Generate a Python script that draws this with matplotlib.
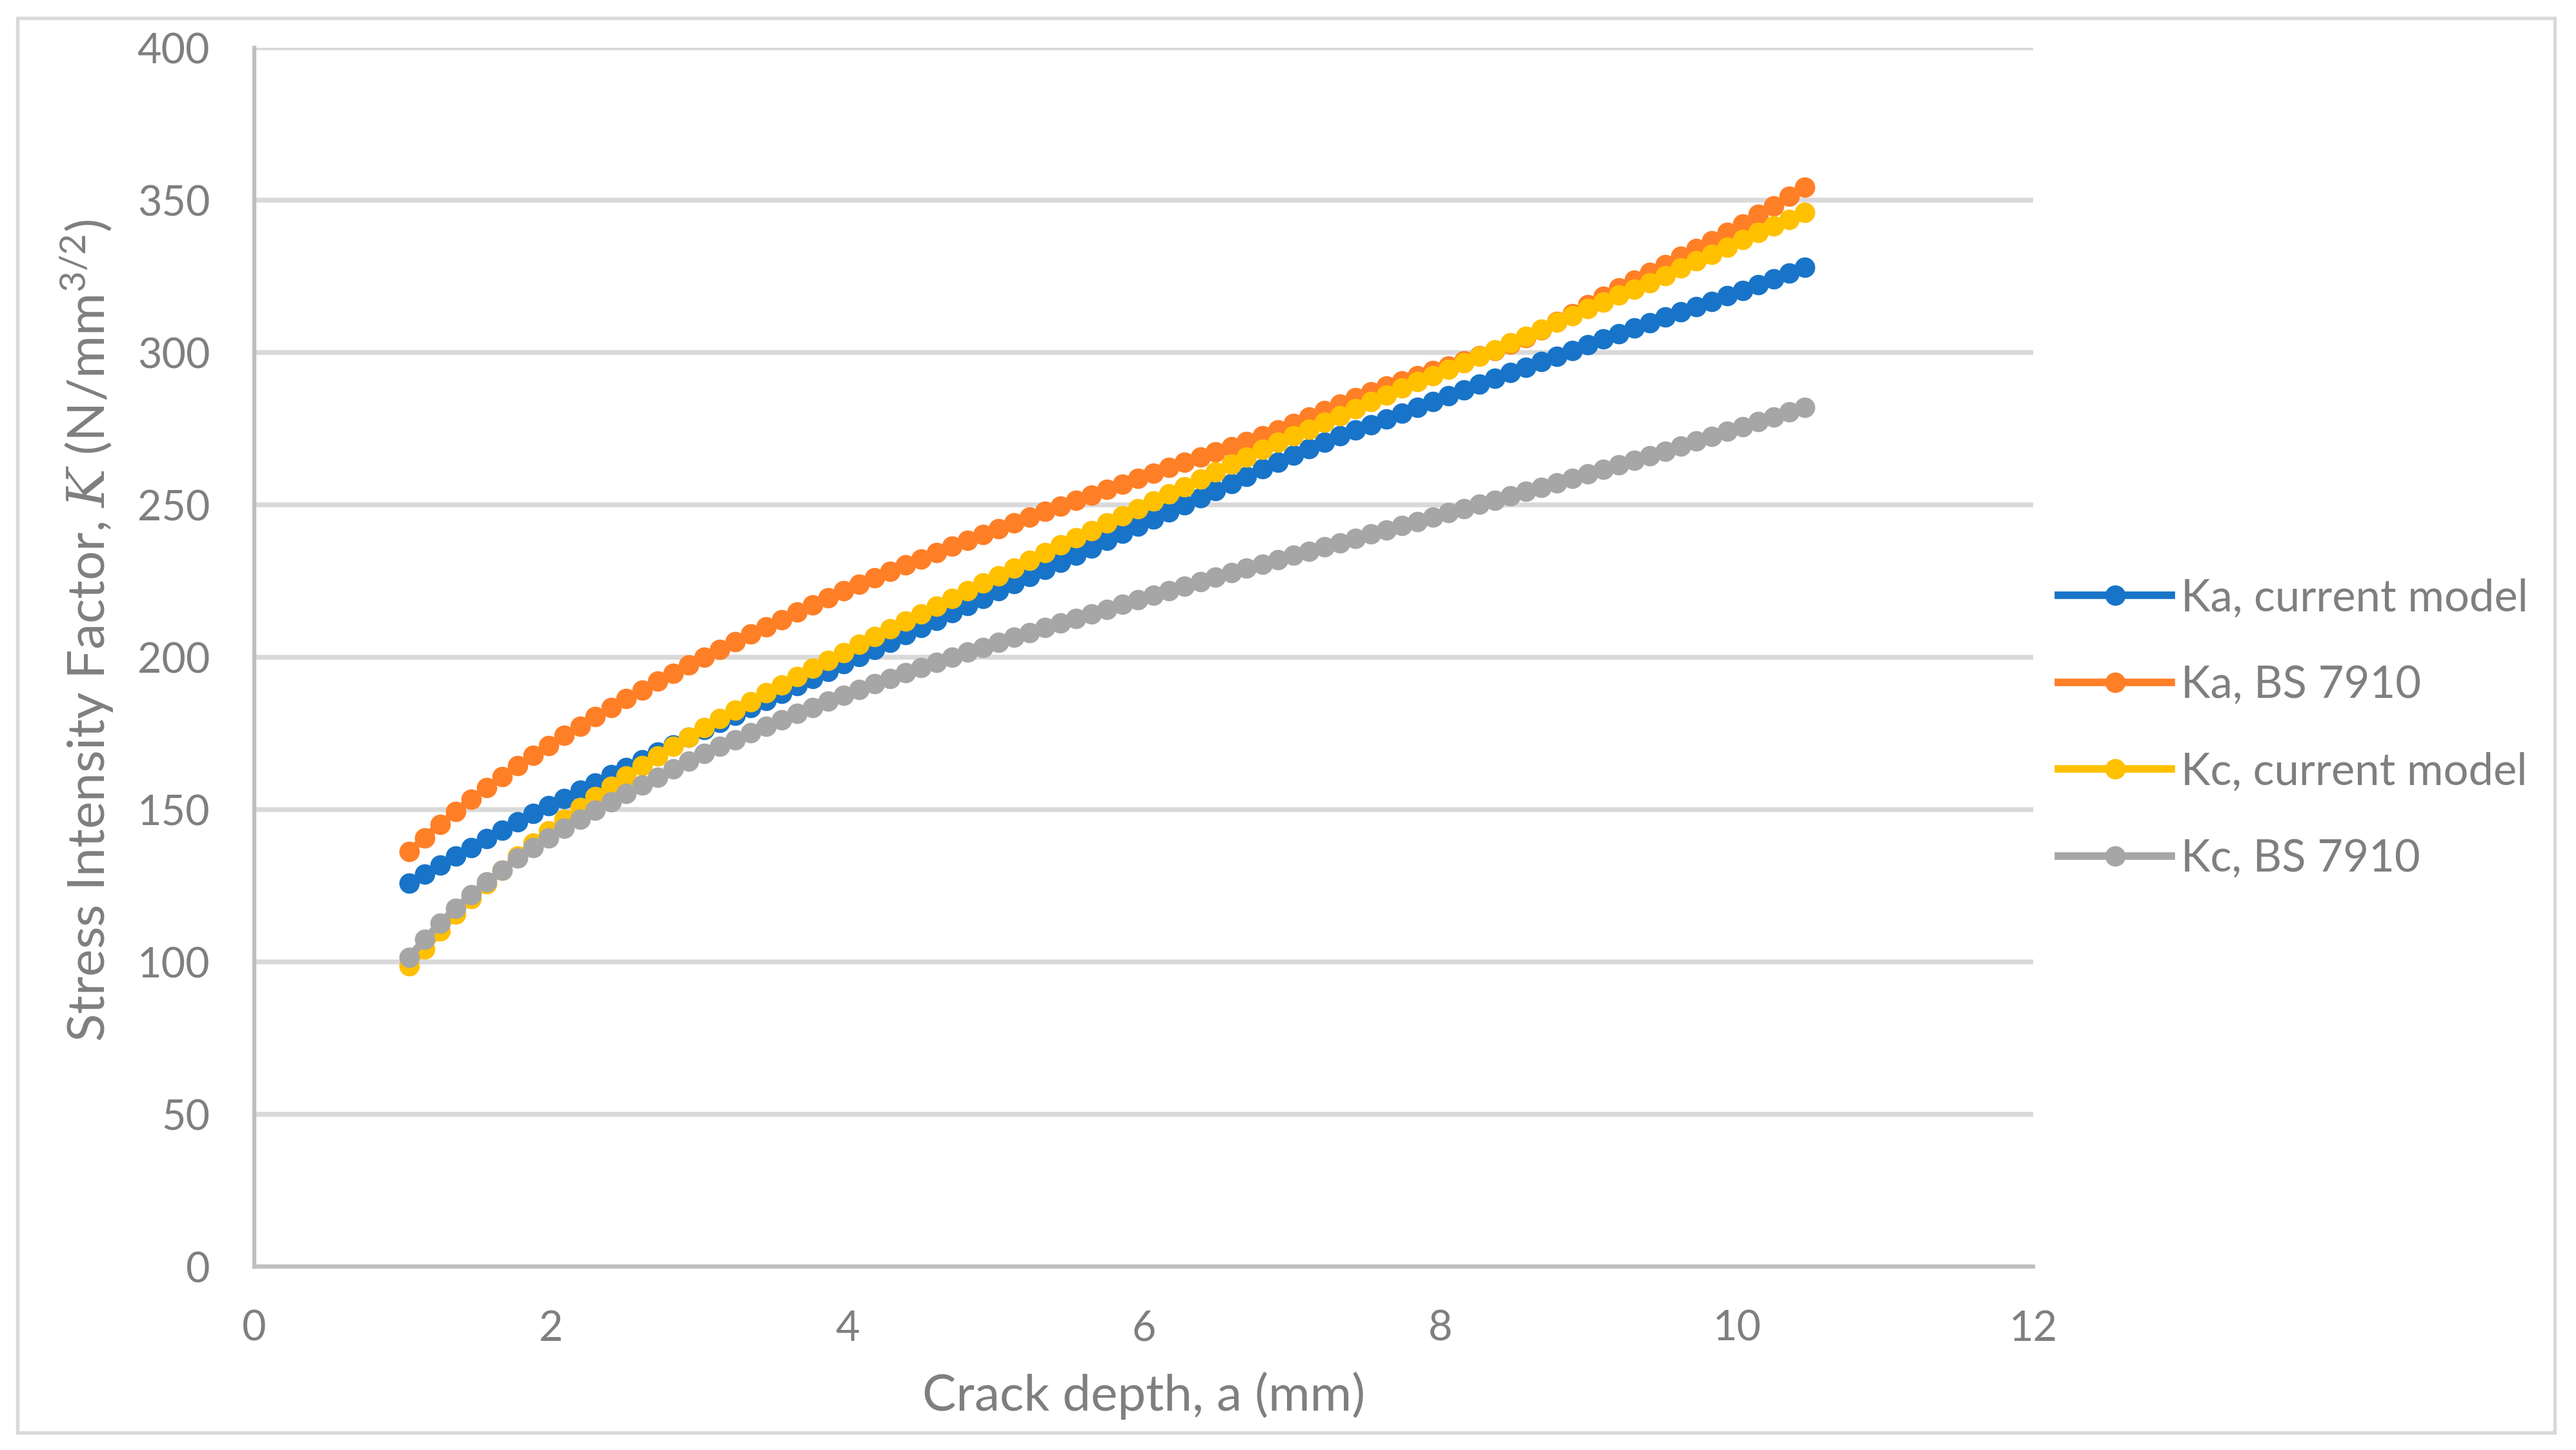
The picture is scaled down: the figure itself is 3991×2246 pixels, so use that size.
import matplotlib
matplotlib.use("Agg")
import matplotlib.pyplot as plt
from matplotlib.patches import Rectangle

# crack depth a (mm), one marker every ~0.105 mm
crack_depth = [
    1.046, 1.151, 1.255, 1.360, 1.464, 1.569, 1.674, 1.778, 1.883, 1.987,
    2.092, 2.197, 2.301, 2.406, 2.510, 2.615, 2.720, 2.824, 2.929, 3.033,
    3.138, 3.243, 3.347, 3.452, 3.556, 3.661, 3.766, 3.870, 3.975, 4.079,
    4.184, 4.289, 4.393, 4.498, 4.602, 4.707, 4.812, 4.916, 5.021, 5.125,
    5.230, 5.335, 5.439, 5.544, 5.648, 5.753, 5.858, 5.962, 6.067, 6.171,
    6.276, 6.381, 6.485, 6.590, 6.694, 6.799, 6.904, 7.008, 7.113, 7.217,
    7.322, 7.427, 7.531, 7.636, 7.740, 7.845, 7.950, 8.054, 8.159, 8.263,
    8.368, 8.473, 8.577, 8.682, 8.786, 8.891, 8.996, 9.100, 9.205, 9.309,
    9.414, 9.519, 9.623, 9.728, 9.832, 9.937, 10.042, 10.146, 10.251, 10.355,
    10.460,
]

ka_current = [
    125.8, 128.8, 131.9, 134.8, 137.6, 140.5, 143.3, 146.0, 148.7, 151.2,
    153.7, 156.3, 158.8, 161.4, 163.9, 166.4, 168.9, 171.3, 173.8, 176.2,
    178.6, 181.0, 183.4, 185.8, 188.2, 190.6, 193.0, 195.4, 197.8, 200.2,
    202.6, 205.0, 207.4, 209.8, 212.2, 214.6, 217.0, 219.4, 221.8, 224.2,
    226.6, 228.9, 231.2, 233.6, 235.9, 238.3, 240.6, 243.0, 245.3, 247.7,
    250.0, 252.4, 254.7, 257.1, 259.4, 261.8, 264.1, 266.3, 268.4, 270.5,
    272.6, 274.5, 276.4, 278.3, 280.2, 282.1, 284.0, 285.9, 287.8, 289.7,
    291.6, 293.4, 295.2, 297.0, 298.8, 300.7, 302.5, 304.4, 306.2, 308.0,
    309.8, 311.6, 313.3, 315.0, 316.8, 318.6, 320.4, 322.3, 324.1, 326.0,
    328.0,
]

ka_bs7910 = [
    136.2, 140.8, 145.2, 149.3, 153.4, 157.2, 160.9, 164.4, 167.9, 171.1,
    174.3, 177.4, 180.5, 183.5, 186.4, 189.3, 192.1, 194.8, 197.5, 200.1,
    202.6, 205.1, 207.6, 210.0, 212.4, 214.8, 217.2, 219.5, 221.8, 224.0,
    226.1, 228.2, 230.3, 232.3, 234.4, 236.4, 238.3, 240.3, 242.2, 244.1,
    246.0, 247.9, 249.7, 251.5, 253.3, 255.1, 256.9, 258.7, 260.5, 262.3,
    264.0, 265.7, 267.4, 269.1, 270.8, 272.6, 274.7, 276.8, 278.9, 281.0,
    283.0, 285.1, 287.1, 289.0, 290.8, 292.4, 294.0, 295.6, 297.2, 298.9,
    300.7, 302.8, 305.0, 307.4, 310.1, 312.8, 315.6, 318.4, 321.3, 323.8,
    326.3, 328.8, 331.6, 334.1, 336.6, 339.4, 342.2, 345.3, 348.2, 351.3,
    354.2,
]

kc_current = [
    98.8, 104.2, 110.1, 115.8, 120.8, 125.7, 130.1, 134.8, 139.0, 143.0,
    146.8, 150.6, 154.2, 157.7, 161.1, 164.4, 167.6, 170.8, 173.8, 177.0,
    179.9, 182.7, 185.5, 188.3, 191.0, 193.7, 196.4, 199.0, 201.6, 204.2,
    206.8, 209.3, 211.8, 214.3, 216.8, 219.3, 221.8, 224.3, 226.8, 229.3,
    231.8, 234.3, 236.8, 239.2, 241.6, 244.0, 246.4, 248.8, 251.2, 253.6,
    256.0, 258.5, 260.9, 263.3, 265.8, 268.3, 270.5, 272.7, 274.9, 277.1,
    279.3, 281.6, 283.9, 286.1, 288.3, 290.4, 292.5, 294.6, 296.7, 298.8,
    300.9, 303.1, 305.3, 307.6, 309.9, 312.2, 314.4, 316.6, 318.9, 320.7,
    323.0, 325.3, 327.8, 330.1, 332.3, 334.6, 337.1, 339.5, 341.5, 343.7,
    346.1,
]

kc_bs7910 = [
    101.6, 107.5, 112.7, 117.7, 122.1, 126.3, 130.2, 134.1, 137.6, 140.8,
    143.9, 146.9, 149.8, 152.6, 155.3, 158.0, 160.7, 163.3, 165.9, 168.4,
    170.8, 173.0, 175.2, 177.4, 179.5, 181.6, 183.6, 185.6, 187.6, 189.5,
    191.3, 193.1, 194.9, 196.6, 198.3, 200.0, 201.7, 203.3, 204.9, 206.5,
    208.1, 209.7, 211.2, 212.8, 214.3, 215.8, 217.3, 218.8, 220.3, 221.8,
    223.3, 224.8, 226.3, 227.7, 229.2, 230.6, 232.0, 233.4, 234.8, 236.2,
    237.6, 239.0, 240.4, 241.8, 243.2, 244.6, 246.0, 247.4, 248.8, 250.2,
    251.6, 253.0, 254.4, 255.8, 257.2, 258.7, 260.2, 261.7, 263.2, 264.7,
    266.2, 267.7, 269.3, 270.9, 272.5, 274.1, 275.7, 277.3, 278.9, 280.5,
    282.1,
]

series_labels = ["Ka, current model", "Ka, BS 7910", "Kc, current model", "Kc, BS 7910"]
series_colors = ["#1874C8", "#FF7F27", "#FFC000", "#A6A6A6"]

x_ticks = [0, 2, 4, 6, 8, 10, 12]
y_ticks = [0, 50, 100, 150, 200, 250, 300, 350, 400]


def main():
    plt.rcParams["font.family"] = ["Lato", "DejaVu Sans"]
    plt.rcParams["mathtext.fontset"] = "custom"
    plt.rcParams["mathtext.rm"] = "Lato"
    plt.rcParams["mathtext.it"] = "DejaVu Serif:italic"

    text_color = "#7F7F7F"

    fig = plt.figure(figsize=(3991 / 300, 2246 / 300), dpi=300)
    ax = fig.add_axes([0.0987, 0.1264, 0.6906, 0.8406])

    # frame around the whole chart
    fig.patches.append(Rectangle((0.0068, 0.012), 0.985, 0.9755,
                                 transform=fig.transFigure, fill=False,
                                 edgecolor="#D9D9D9", linewidth=1.3))

    all_series = [ka_current, ka_bs7910, kc_current, kc_bs7910]
    for values, label, color in zip(all_series, series_labels, series_colors):
        ax.plot(crack_depth, values, "-o", color=color, label=label,
                linewidth=2.8, markersize=7.6, markeredgewidth=0)

    ax.set_xlim(0, 12)
    ax.set_ylim(0, 400)
    ax.set_xticks(x_ticks)
    ax.set_yticks(y_ticks)

    ax.yaxis.grid(True, color="#D9D9D9", linewidth=1.8)
    ax.set_axisbelow(True)
    for side in ["top", "right"]:
        ax.spines[side].set_visible(False)
    for side in ["left", "bottom"]:
        ax.spines[side].set_color("#BFBFBF")
        ax.spines[side].set_linewidth(1.5)

    ax.tick_params(axis="both", length=0, labelsize=15.5, labelcolor=text_color)
    ax.tick_params(axis="x", pad=16)
    ax.tick_params(axis="y", pad=16.5)

    fig.text(1772 / 3991, 1 - 2185 / 2246, "Crack depth, a (mm)",
             ha="center", va="baseline", fontsize=18.8, color=text_color)
    fig.text(163 / 3991, 1 - 977 / 2246,
             r"Stress Intensity Factor, $K$ (N/mm$^{3/2}$)",
             ha="center", va="baseline", rotation=90, rotation_mode="anchor",
             fontsize=19.3, color=text_color)

    fig.legend(loc="center left", bbox_to_anchor=(3189 / 3991, 0.4975),
               frameon=False, borderaxespad=0, borderpad=0,
               handlelength=2.55, handletextpad=0.22, labelspacing=1.04,
               fontsize=16.5, labelcolor=text_color)

    fig.savefig("out.png", dpi=300)


if __name__ == "__main__":
    main()
